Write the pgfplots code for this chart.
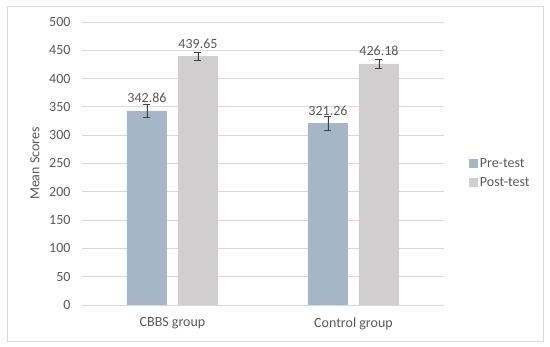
\documentclass[border=0pt]{standalone}
\usepackage{pgfplots}
\pgfplotsset{compat=1.18}
\usepackage{fontspec}
\setmainfont{Carlito}
\definecolor{preC}{HTML}{A7B5C9}
\definecolor{postC}{HTML}{D0CECE}
\definecolor{gridC}{HTML}{D9D9D9}
\definecolor{txtC}{HTML}{595959}
\definecolor{errC}{HTML}{404040}
\begin{document}
\begin{tikzpicture}[x=1pt,y=1pt]
\path (-82,-42) rectangle (468,305);
\draw[gridC, line width=0.8pt] (-75,-36) rectangle (461,299);
\begin{axis}[
  at={(0,0)}, anchor=south west,
  scale only axis, width=362pt, height=283pt,
  ybar=11pt, bar width=40pt,
  xmin=-0.5, xmax=1.5, ymin=0, ymax=500,
  xtick=data, xticklabels={CBBS group, Control group},
  ytick={0,50,...,500},
  major tick length=0pt,
  axis x line*=bottom, axis y line*=left,
  x axis line style={gridC, line width=0.8pt, -},
  y axis line style={draw=none},
  ymajorgrids, grid style={gridC, line width=0.8pt},
  font=\fontsize{14}{16}\selectfont,
  tick label style={txtC},
  /pgf/number format/assume math mode=true,
  yticklabel style={anchor=east, xshift=-8pt},
  xticklabel style={anchor=north, yshift=-9pt},
  ylabel={Mean Scores},
  ylabel style={txtC, at={(axis description cs:-0.13,0.5)}, anchor=center},
  nodes near coords,
  nodes near coords style={txtC, anchor=south, yshift=4.5pt,
    /pgf/number format/.cd, fixed, fixed zerofill, precision=2, assume math mode=true},
  legend style={draw=none, fill=none, at={(1.06,0.466)}, anchor=west,
    font=\fontsize{14}{16}\selectfont, text=txtC, row sep=5pt,
    legend cell align=left},
  legend image code/.code={\fill[#1] (0pt,-4.5pt) rectangle (9pt,4.5pt);},
  error bars/y dir=both, error bars/y explicit,
  error bars/error bar style={errC, line width=0.8pt},
  error bars/error mark options={errC, rotate=90, mark size=3.5pt, line width=0.8pt},
]
\addplot[fill=preC, draw=none] coordinates {(0,342.86) +- (0,11) (1,321.26) +- (0,12)};
\addplot[fill=postC, draw=none] coordinates {(0,439.65) +- (0,7) (1,426.18) +- (0,8)};
\legend{Pre-test, Post-test}
\end{axis}
\end{tikzpicture}
\end{document}
